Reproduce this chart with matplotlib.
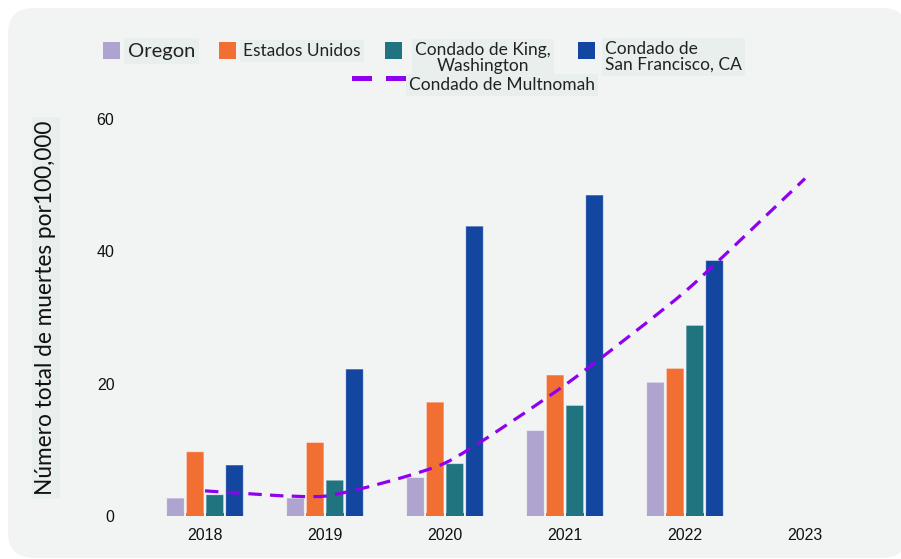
import numpy as np
import matplotlib
matplotlib.use("Agg")
import matplotlib.pyplot as plt
from matplotlib.patches import FancyBboxPatch, Rectangle
from matplotlib.path import Path
from matplotlib.patches import PathPatch
from matplotlib.transforms import IdentityTransform

years = ["2018", "2019", "2020", "2021", "2022", "2023"]
series_names = ["Oregon", "Estados Unidos", "Condado de King,\nWashington",
                "Condado de\nSan Francisco, CA"]
oregon = [2.7, 2.7, 5.8, 12.9, 20.2]
usa = [9.7, 11.1, 17.2, 21.3, 22.3]
king = [3.2, 5.4, 7.9, 16.7, 28.8]
sf = [7.7, 22.2, 43.8, 48.5, 38.6]
multnomah = [3.8, 3.0, 8.0, 19.8, 33.9, 51.0]
line_name = "Condado de Multnomah"
yticks = [0, 20, 40, 60]

colors = ["#afa4cf", "#f26f33", "#1f7480", "#1346a0"]
line_color = "#9000f0"
panel_color = "#f2f4f3"
label_bg = "#e9efed"

W, H = 901, 559
fig = plt.figure(figsize=(W / 100, H / 100), dpi=100, facecolor="white")

# rounded background panel (pixel coords)
panel = FancyBboxPatch((8, 1), 900, 550, boxstyle="round,pad=0,rounding_size=26",
                       transform=IdentityTransform(), facecolor=panel_color,
                       edgecolor="none", zorder=-10)
fig.patches.append(panel)

def px(x, y):
    return x / W, 1 - y / H

ax = fig.add_axes([145 / W, (559 - 516) / H, 720 / W, 62 * 6.617 / H])
ax.set_facecolor("none")
for s in ax.spines.values():
    s.set_visible(False)

x = np.arange(len(years))
bar_data = [oregon, usa, king, sf]
offsets = [-0.246, -0.082, 0.082, 0.246]
for vals, off, c in zip(bar_data, offsets, colors):
    bars = ax.bar(x[:len(vals)] + off, vals, width=0.145, color=c,
                  edgecolor="#ffffff55", linewidth=0.6, zorder=2)
    # rounded tops
    for b in bars:
        b.set_visible(False)
        bx, by = b.get_x(), b.get_y()
        bw, bh = b.get_width(), b.get_height()
        fb = FancyBboxPatch((bx, by), bw, bh,
                            boxstyle="round,pad=0,rounding_size=0.022",
                            mutation_aspect=1 / 18.1, facecolor=c,
                            edgecolor="#ffffff66", linewidth=0.6, zorder=2)
        ax.add_patch(fb)
        ax.add_patch(Rectangle((bx, by), bw, min(bh, 0.5), facecolor=c,
                               edgecolor="none", zorder=2))

# lightly smoothed dashed line through the Multnomah values
xs = x.astype(float)
ys = np.array(multnomah)
verts = [(xs[0], ys[0])]
codes = [Path.MOVETO]
k = 0.09
for i in range(len(xs) - 1):
    p0 = np.array([xs[max(i - 1, 0)], ys[max(i - 1, 0)]])
    p1 = np.array([xs[i], ys[i]])
    p2 = np.array([xs[i + 1], ys[i + 1]])
    p3 = np.array([xs[min(i + 2, len(xs) - 1)], ys[min(i + 2, len(xs) - 1)]])
    c1 = p1 + (p2 - p0) * k
    c2 = p2 - (p3 - p1) * k
    verts += [tuple(c1), tuple(c2), tuple(p2)]
    codes += [Path.CURVE4] * 3
ax.add_patch(PathPatch(Path(verts, codes), facecolor="none", edgecolor=line_color,
                       lw=2.3, linestyle=(0, (4.2, 2.6)), zorder=3, capstyle="butt"))

ax.set_xlim(-0.5, len(years) - 0.5)
ax.set_ylim(0, 62)
ax.set_xticks(x)
ax.set_xticklabels(years)
ax.set_yticks(yticks)
ax.set_yticklabels([str(t) for t in yticks])
ax.tick_params(length=0, labelsize=11.5, labelfontfamily="Liberation Sans",
               labelcolor="#111111")
ax.tick_params(axis="x", pad=9)
ax.tick_params(axis="y", pad=22)

fig.text(*px(46, 308), "Número total de muertes por100,000", rotation=90,
         ha="center", va="center", fontsize=16.3, family="Lato", color="#111111",
         bbox=dict(boxstyle="square,pad=0.15", facecolor=label_bg, edgecolor="none"))

# legend
leg_font = "Lato"
patch_pos = [(103, 42), (219, 42), (385, 42), (578, 42)]
text_pos = [(128, 51), (243, 51), (415, 58), (605, 57)]
sizes = [14.5, 12.5, 12.5, 12.5]
for name, c, (pxx, pyy), (tx, ty), fs in zip(series_names, colors, patch_pos, text_pos, sizes):
    fig.patches.append(Rectangle(px(pxx, pyy + 17), 17 / W, 17 / H,
                                 transform=fig.transFigure, facecolor=c,
                                 edgecolor="none"))
    fig.text(*px(tx, ty), name, ha="left", va="center", fontsize=fs,
             family=leg_font, color="#222222", linespacing=0.95,
             multialignment="center" if "King" in name else "left",
             bbox=dict(boxstyle="square,pad=0.2", facecolor=label_bg, edgecolor="none"))
for x0 in (352, 386):
    fig.patches.append(Rectangle(px(x0, 81), 20 / W, 5 / H, transform=fig.transFigure,
                                 facecolor=line_color, edgecolor="none"))
fig.text(*px(409, 85), line_name, ha="left", va="center", fontsize=12.5,
         family=leg_font, color="#222222",
         bbox=dict(boxstyle="square,pad=0.2", facecolor=label_bg, edgecolor="none"))

fig.savefig("out.png", dpi=100, facecolor="white")
